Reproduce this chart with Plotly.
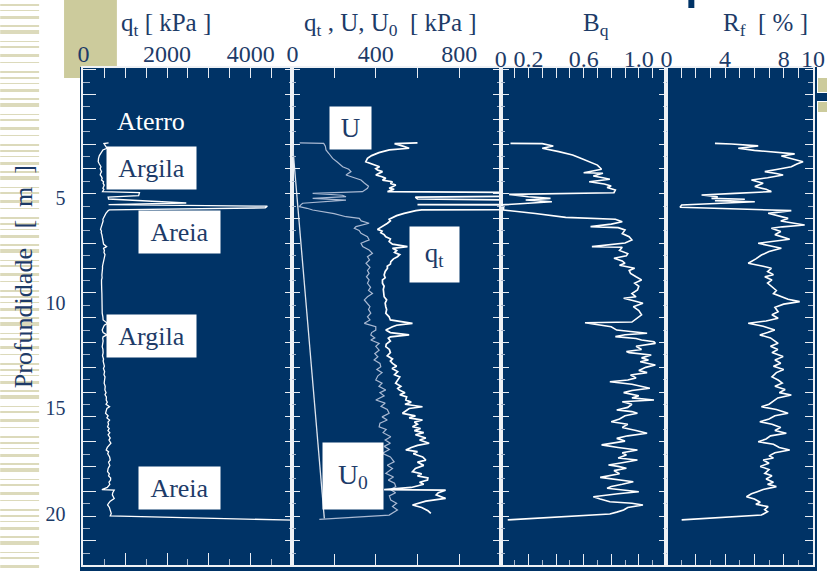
import plotly.graph_objects as go

# ---------------- data ----------------
qt_depth = [2.40, 2.43, 2.55, 2.65, 2.73, 2.86, 3.00, 3.13, 3.29, 3.40,
            3.45, 3.53, 3.62, 3.68, 3.76, 3.85, 3.92, 4.00, 4.08, 4.16,
            4.24, 4.32, 4.40, 4.48, 4.55, 4.60, 4.71, 4.76, 4.90, 4.97,
            5.06, 5.25, 5.33, 5.40, 5.48, 5.58, 5.61, 5.74, 5.85, 6.02,
            6.10, 6.21, 6.35, 6.50, 6.58, 6.66, 6.75, 6.85, 6.95, 7.08,
            7.20, 7.32, 7.40, 7.50, 7.60, 7.70, 7.80, 7.90, 8.03, 8.15,
            8.25, 8.35, 8.50, 8.67, 8.80, 8.90, 9.06, 9.20, 9.35, 9.54,
            9.70, 9.85, 10.00, 10.17, 10.30, 10.48, 10.65, 10.80, 10.96, 11.05,
            11.12, 11.28, 11.40, 11.51, 11.60, 11.67, 11.80, 11.95, 12.07, 12.20,
            12.35, 12.50, 12.65, 12.75, 12.86, 13.00, 13.10, 13.25, 13.40, 13.50,
            13.65, 13.80, 13.95, 14.05, 14.12, 14.25, 14.35, 14.45, 14.60, 14.70,
            14.80, 14.92, 15.00, 15.10, 15.23, 15.35, 15.45, 15.55, 15.65, 15.75,
            15.87, 15.95, 16.05, 16.15, 16.25, 16.40, 16.50, 16.65, 16.75, 16.85,
            16.97, 17.05, 17.15, 17.30, 17.45, 17.55, 17.70, 17.85, 18.00, 18.10,
            18.20, 18.30, 18.40, 18.50, 18.60, 18.75, 18.85, 18.88, 19.00, 19.10,
            19.27, 19.40, 19.50, 19.58, 19.70, 19.85, 19.98]
qt_kpa = [600, 490, 530, 560, 465, 415, 380, 360, 352, 380,
          392, 418, 400, 408, 432, 410, 400, 430, 448, 432,
          480, 470, 496, 480, 464, 488, 456, 1340, 1320, 590,
          600, 2460, 600, 4400, 4350, 620, 592, 536, 500, 464,
          470, 456, 430, 408, 430, 424, 440, 448, 470, 464,
          480, 552, 480, 500, 490, 515, 504, 485, 472, 470,
          455, 456, 445, 440, 445, 432, 432, 440, 436, 440,
          440, 452, 445, 448, 452, 448, 464, 470, 576, 500,
          480, 448, 470, 560, 470, 460, 470, 450, 448, 465,
          470, 455, 480, 470, 480, 500, 478, 505, 490, 515,
          504, 495, 520, 505, 512, 540, 515, 548, 544, 570,
          540, 624, 560, 545, 528, 590, 560, 624, 585, 600,
          576, 615, 585, 630, 590, 640, 610, 656, 600, 570,
          544, 600, 580, 625, 640, 600, 630, 590, 576, 620,
          600, 650, 648, 610, 630, 570, 440, 735, 700, 690,
          735, 640, 600, 576, 620, 650, 664]
qt_tail_depth = [20.10, 20.31]
qt_tail_kpa = [640, 5200]

u_depth = [2.40, 2.42, 2.55, 2.73, 2.90, 3.13, 3.30, 3.53, 3.65, 3.76,
           3.92, 4.05, 4.16, 4.30, 4.45, 4.55, 4.71, 4.79, 4.88, 4.95,
           5.03, 5.11, 5.20, 5.26, 5.34, 5.42, 5.50, 5.58, 5.75, 5.90,
           5.98, 6.10, 6.21, 6.37, 6.45, 6.55, 6.69, 6.85, 7.00, 7.16,
           7.32, 7.48, 7.64, 7.80, 7.95, 8.11, 8.30, 8.45, 8.59, 8.75,
           8.90, 9.06, 9.25, 9.40, 9.54, 9.70, 9.85, 10.01, 10.17, 10.30,
           10.48, 10.65, 10.80, 10.96, 11.12, 11.28, 11.40, 11.51, 11.65, 11.75,
           11.91, 12.05, 12.23, 12.40, 12.55, 12.70, 12.86, 13.02, 13.15, 13.30,
           13.45, 13.65, 13.80, 13.95, 14.12, 14.25, 14.40, 14.60, 14.75, 14.90,
           15.05, 15.23, 15.40, 15.55, 15.70, 15.87, 16.00, 16.15, 16.34, 16.50,
           16.65, 16.80, 16.95, 17.13, 17.30, 17.53, 17.70, 17.85, 18.08, 18.25,
           18.40, 18.55, 18.71, 18.85, 19.00, 19.15, 19.35, 19.50, 19.65, 19.82,
           19.95, 20.06, 20.26]
u_kpa = [35, 150, 158, 161, 175, 193, 215, 241, 270, 281,
         257, 300, 329, 345, 365, 360, 336, 97, 240, 257,
         97, 257, 120, 49, 40, 33, 70, 97, 200, 257,
         321, 330, 368, 305, 297, 320, 329, 360, 368, 329,
         337, 368, 384, 360, 370, 353, 372, 360, 368, 355,
         368, 360, 375, 365, 384, 360, 345, 360, 372, 365,
         376, 360, 372, 345, 400, 400, 380, 376, 395, 376,
         416, 400, 416, 395, 410, 392, 420, 424, 405, 430,
         410, 400, 430, 415, 448, 420, 440, 400, 445, 425,
         455, 464, 430, 455, 420, 416, 450, 435, 472, 445,
         470, 440, 465, 432, 470, 488, 455, 480, 448, 485,
         460, 490, 496, 470, 495, 465, 472, 500, 480, 504,
         480, 464, 129]

u0_depth = [2.40, 20.22]
u0_kpa = [0, 153]

bq_depth = [2.42, 2.43, 2.54, 2.65, 2.81, 2.97, 3.10, 3.29, 3.45, 3.65,
            3.75, 3.81, 3.84, 3.97, 4.05, 4.12, 4.24, 4.35, 4.44, 4.51,
            4.63, 4.76, 4.84, 4.95, 5.03, 5.11, 5.19, 5.34, 5.45, 5.58,
            5.75, 5.93, 6.02, 6.14, 6.25, 6.37, 6.42, 6.53, 6.70, 6.85,
            7.00, 7.15, 7.32, 7.35, 7.50, 7.65, 7.76, 7.87, 8.00, 8.11,
            8.20, 8.35, 8.45, 8.59, 8.75, 8.90, 9.05, 9.20, 9.38, 9.55,
            9.70, 9.77, 9.90, 10.01, 10.17, 10.35, 10.56, 10.75, 10.90, 10.93,
            11.05, 11.12, 11.28, 11.35, 11.43, 11.50, 11.59, 11.68, 11.75, 11.83,
            11.91, 12.05, 12.20, 12.30, 12.35, 12.46, 12.60, 12.70, 12.78, 12.94,
            13.05, 13.20, 13.30, 13.41, 13.55, 13.65, 13.73, 13.85, 13.95, 14.04,
            14.15, 14.25, 14.40, 14.50, 14.60, 14.68, 14.80, 14.95, 15.07, 15.15,
            15.23, 15.35, 15.50, 15.63, 15.75, 15.90, 16.05, 16.18, 16.30, 16.42,
            16.55, 16.65, 16.73, 16.85, 16.97, 17.10, 17.21, 17.35, 17.45, 17.55,
            17.68, 17.75, 17.84, 17.95, 18.10, 18.27, 18.38, 18.48, 18.60, 18.70,
            18.79, 18.88, 18.95, 19.05, 19.19, 19.30, 19.43, 19.50, 19.58, 19.70,
            19.82, 19.92, 20.01, 20.29]
bq = [0.07, 0.30, 0.38, 0.30, 0.42, 0.52, 0.57, 0.64, 0.70, 0.73,
      0.66, 0.60, 0.74, 0.67, 0.74, 0.79, 0.64, 0.75, 0.80, 0.77,
      0.83, 0.82, 0.06, 0.20, 0.36, 0.18, 0.37, 0.00, 0.02, 0.02,
      0.25, 0.47, 0.83, 0.88, 0.80, 0.65, 0.85, 0.90, 0.88, 0.93,
      0.95, 0.90, 0.66, 0.88, 0.86, 0.92, 0.91, 0.82, 0.88, 0.90,
      0.86, 0.97, 0.93, 0.94, 0.98, 1.02, 0.97, 1.00, 0.99, 0.95,
      0.98, 0.89, 0.97, 1.03, 0.96, 1.00, 1.02, 0.98, 0.95, 0.61,
      0.72, 0.80, 0.84, 0.95, 1.06, 0.90, 0.83, 0.98, 1.02, 1.11,
      1.12, 0.98, 1.02, 0.91, 0.93, 1.09, 1.02, 1.07, 1.01, 1.12,
      1.05, 1.00, 1.06, 0.94, 0.98, 0.92, 0.79, 0.95, 1.02, 1.08,
      0.95, 0.89, 1.00, 0.95, 1.11, 0.88, 0.95, 0.92, 0.84, 0.95,
      0.99, 0.90, 0.86, 0.80, 0.92, 0.88, 0.98, 1.06, 0.92, 0.84,
      0.90, 0.80, 0.73, 0.85, 0.99, 0.88, 0.91, 0.85, 0.99, 0.90,
      0.78, 0.85, 0.91, 0.82, 0.86, 0.72, 0.85, 0.96, 0.88, 0.80,
      0.77, 0.92, 1.00, 0.85, 0.67, 0.72, 0.79, 0.95, 1.03, 0.92,
      0.89, 0.84, 0.79, 0.05]

rf_depth = [2.42, 2.45, 2.54, 2.65, 2.75, 2.85, 2.92, 3.02, 3.15, 3.29,
            3.40, 3.53, 3.65, 3.76, 3.85, 3.92, 4.05, 4.16, 4.31, 4.40,
            4.47, 4.60, 4.71, 4.79, 4.87, 4.95, 5.03, 5.07, 5.14, 5.19,
            5.30, 5.34, 5.45, 5.61, 5.74, 5.85, 5.98, 6.10, 6.29, 6.38,
            6.45, 6.60, 6.75, 6.97, 7.05, 7.16, 7.30, 7.40, 7.55, 7.72,
            7.90, 8.11, 8.25, 8.35, 8.50, 8.65, 8.75, 8.90, 9.05, 9.22,
            9.40, 9.55, 9.70, 9.82, 9.93, 10.05, 10.20, 10.41, 10.55, 10.72,
            10.85, 10.96, 11.10, 11.28, 11.40, 11.51, 11.65, 11.78, 11.91, 12.05,
            12.20, 12.35, 12.54, 12.70, 12.85, 13.00, 13.15, 13.30, 13.50, 13.65,
            13.80, 13.95, 14.10, 14.25, 14.36, 14.50, 14.65, 14.80, 14.92, 15.05,
            15.23, 15.35, 15.50, 15.63, 15.75, 15.90, 16.05, 16.18, 16.30, 16.45,
            16.58, 16.70, 16.85, 16.97, 17.10, 17.25, 17.35, 17.45, 17.60, 17.75,
            17.90, 18.08, 18.20, 18.35, 18.50, 18.60, 18.71, 18.85, 18.95, 19.05,
            19.19, 19.30, 19.45, 19.55, 19.66, 19.80, 19.90, 20.06, 20.29]
rf_pct = [3.31, 4.44, 6.26, 4.90, 6.00, 7.80, 8.75, 7.84, 8.60, 9.32,
          8.90, 8.52, 7.60, 6.71, 7.50, 7.96, 6.90, 5.80, 6.60, 6.20,
          6.03, 6.80, 7.16, 4.67, 2.40, 3.50, 3.08, 5.35, 3.31, 6.03,
          2.50, 1.04, 0.93, 8.52, 6.94, 7.60, 8.30, 7.80, 9.43, 7.90,
          7.16, 7.80, 7.40, 8.41, 7.30, 6.26, 7.20, 7.84, 7.00, 6.48,
          6.10, 5.58, 6.60, 7.16, 6.90, 7.30, 6.71, 7.20, 6.90, 7.16,
          7.50, 7.30, 7.84, 8.30, 9.09, 8.00, 7.40, 7.62, 7.20, 7.62,
          6.80, 5.58, 6.60, 7.39, 6.90, 6.37, 7.10, 7.40, 7.62, 7.10,
          7.60, 7.20, 7.96, 7.40, 7.80, 7.30, 8.00, 7.50, 7.20, 7.62,
          7.90, 7.40, 8.10, 7.70, 8.52, 7.60, 7.30, 7.00, 6.48, 7.50,
          8.30, 7.40, 7.00, 6.37, 7.20, 7.80, 7.40, 8.18, 7.10, 6.80,
          6.26, 7.30, 7.70, 8.41, 7.40, 7.00, 7.30, 6.60, 7.00, 6.40,
          7.00, 6.71, 7.20, 6.80, 7.30, 6.90, 7.50, 6.60, 6.20, 5.80,
          5.46, 6.00, 6.40, 6.10, 6.94, 6.70, 6.90, 6.48, 1.04]

depth_ticks = [5, 10, 15, 20]
bq_ticks = [0, 0.2, 0.6, 1.0]
bq_ticktext = ["0", "0.2", "0.6", "1.0"]
rf_ticks = [0, 4, 8, 10]

assert len(qt_depth) == len(qt_kpa)
assert len(u_depth) == len(u_kpa)
assert len(bq_depth) == len(bq)
assert len(rf_depth) == len(rf_pct)

# ---------------- styling / layout helpers ----------------
W, H = 829, 571
NL, NR, NT, NB_ = 80, 819, 67, 571       # navy panel (= plotting area) pixel bounds
NAVY = "#003366"
TXT = "#1d3b68"
KHAKI = "#cccb9c"
STRIPE = "#dcdabb"
LINE = "#eef1f5"
TICK = "#e9edf3"
TICK2 = "#a8b7cc"
FONT = "Liberation Serif, Times New Roman, serif"


def px(x):
    return (x - NL) / (NR - NL)


def py(y):
    return (NB_ - y) / (NB_ - NT)


D1 = [px(83.5), px(293)]
D2 = [px(293), px(502)]
D3 = [px(502), px(668)]
D4 = [px(668), px(815)]
YDOM = [py(565), py(68)]

# depth scale of the slide: depth d sits at pixel 92.4 + 21.07*d
DEPTH_Y0, DEPTH_PXM = 92.4, 21.07
DEPTH_RANGE = [(565 - DEPTH_Y0) / DEPTH_PXM, (68 - DEPTH_Y0) / DEPTH_PXM]
# the frame's tick marks: every 12.4 px starting at pixel 69.7
FR_TICK0 = (69.7 - DEPTH_Y0) / DEPTH_PXM
FR_DTICK = 24.8 / DEPTH_PXM

fig = go.Figure()


def line_trace(x, y, xa, ya, color, width, opacity=1.0):
    fig.add_trace(go.Scatter(x=x, y=y, xaxis=xa, yaxis=ya, mode="lines",
                             opacity=opacity, hoverinfo="skip",
                             line=dict(color=color, width=width)))


qt_panel1_x = qt_kpa + qt_tail_kpa
qt_panel1_y = qt_depth + qt_tail_depth

# visible curves
line_trace(qt_panel1_x, qt_panel1_y, "x", "y", "white", 1.3)
line_trace(u0_kpa, u0_depth, "x2", "y2", "#dfe5ee", 1.3)
line_trace(u_kpa, u_depth, "x2", "y2", "#a9b9d2", 1.2)
line_trace(qt_kpa, qt_depth, "x2", "y2", "white", 1.7)
line_trace(bq, bq_depth, "x3", "y3", "white", 1.6)
line_trace(rf_pct, rf_depth, "x4", "y4", "white", 1.6)
# transparent copies that bind the extra (tick / label) axes to their panels
line_trace(qt_panel1_x, qt_panel1_y, "x5", "y", "white", 1, 0)
line_trace(qt_kpa, qt_depth, "x6", "y2", "white", 1, 0)
line_trace(bq, bq_depth, "x7", "y3", "white", 1, 0)
line_trace(rf_pct, rf_depth, "x8", "y4", "white", 1, 0)
line_trace(bq, bq_depth, "x9", "y3", "white", 1, 0)
line_trace(rf_pct, rf_depth, "x10", "y4", "white", 1, 0)
line_trace(qt_panel1_x, qt_panel1_y, "x", "y5", "white", 1, 0)
line_trace(qt_panel1_x, qt_panel1_y, "x", "y6", "white", 1, 0)

TICKFONT = dict(family=FONT, size=24, color=TXT)


def bottom_axis(domain, rng, anchor, dtick, ln, mdtick=None, mln=0):
    d = dict(domain=domain, range=rng, side="bottom", anchor=anchor,
             tickmode="linear", tick0=0, dtick=dtick,
             ticks="inside", ticklen=ln, tickwidth=1, tickcolor=TICK,
             showticklabels=False, showline=True, linecolor=LINE, linewidth=1.5,
             showgrid=False, zeroline=False)
    if mdtick:
        d["minor"] = dict(tick0=0, dtick=mdtick, ticks="inside", ticklen=mln,
                          tickwidth=1, tickcolor=TICK2, showgrid=False)
    return d


def top_tick_axis(over, rng, anchor, dtick, labels, mdtick=None):
    d = dict(overlaying=over, range=rng, side="top", anchor=anchor,
             tickmode="linear", tick0=0, dtick=dtick,
             ticks="inside", ticklen=10, tickwidth=1, tickcolor=TICK,
             showticklabels=labels, ticklabelstandoff=-5, tickfont=TICKFONT,
             showline=True, linecolor=LINE, linewidth=1.5,
             showgrid=False, zeroline=False)
    if mdtick:
        d["minor"] = dict(tick0=0, dtick=mdtick, ticks="inside", ticklen=10,
                          tickwidth=1, tickcolor=TICK, showgrid=False)
    return d


def label_axis(over, rng, anchor, vals, texts):
    return dict(overlaying=over, range=rng, side="top", anchor=anchor,
                tickmode="array", tickvals=vals, ticktext=texts, ticks="",
                ticklabelstandoff=-5, tickfont=TICKFONT,
                showline=False, showgrid=False, zeroline=False)


def frame_axis(anchor, side, ln, mln, mirror, overlay=None):
    d = dict(range=DEPTH_RANGE, anchor=anchor, side=side,
             tickmode="linear", tick0=FR_TICK0, dtick=FR_DTICK,
             ticks="inside", ticklen=ln, tickwidth=1, tickcolor=TICK,
             minor=dict(tick0=FR_TICK0, dtick=FR_DTICK / 2, ticks="inside",
                        ticklen=mln, tickwidth=1, tickcolor=TICK2, showgrid=False),
             mirror=mirror, showticklabels=False,
             showline=True, linecolor=LINE, linewidth=1.5,
             showgrid=False, zeroline=False)
    if overlay:
        d["overlaying"] = overlay
    else:
        d["domain"] = YDOM
    return d


layout = dict(
    width=W, height=H,
    margin=dict(l=NL, r=W - NR, t=NT, b=H - NB_, pad=0),
    paper_bgcolor="white", plot_bgcolor=NAVY,
    showlegend=False, hovermode=False,
    # panel x-axes (bottom ticks)
    xaxis=bottom_axis(D1, [0, 5000], "y", 1000, 12, 500, 6),
    xaxis2=bottom_axis(D2, [0, 1000], "y2", 200, 11),
    xaxis3=bottom_axis(D3, [0, 1.2], "y3", 0.2, 11, 0.1, 5),
    xaxis4=bottom_axis(D4, [0, 10], "y4", 2, 11, 1, 5),
    # top ticks (and labels for the first two panels)
    xaxis5=top_tick_axis("x", [0, 5000], "y", 2000, True, 500),
    xaxis6=top_tick_axis("x2", [0, 1000], "y2", 400, True, 200),
    xaxis7=top_tick_axis("x3", [0, 1.2], "y3", 0.1, False),
    xaxis8=top_tick_axis("x4", [0, 10], "y4", 1, False),
    # top labels for the B_q and R_f panels
    xaxis9=label_axis("x3", [0, 1.2], "y3", bq_ticks, bq_ticktext),
    xaxis10=label_axis("x4", [0, 10], "y4", rf_ticks, [str(v) for v in rf_ticks]),
    # depth axes with the frame's tick marks
    yaxis=frame_axis("x", "left", 13, 7, True),
    yaxis2=frame_axis("x2", "left", 8, 4, "ticks"),
    yaxis3=frame_axis("x3", "left", 8, 4, "ticks"),
    yaxis4=frame_axis("x4", "right", 8, 5, True),
    yaxis6=frame_axis("x", "right", 8, 4, False, overlay="y"),
    # depth labels
    yaxis5=dict(overlaying="y", range=DEPTH_RANGE, anchor="x", side="left",
                tickmode="array", tickvals=depth_ticks, ticks="",
                showline=False, showgrid=False, zeroline=False,
                ticklabelstandoff=17,
                tickfont=dict(family=FONT, size=20, color=TXT)),
)

# ---------------- decorative shapes (slide template) ----------------
shapes = []
pattern = [(2, 4), (1, 5), (3, 6), (2, 3), (4, 7), (1, 4), (2, 6), (3, 5), (1, 8), (2, 4)]
yy, i = 4, 0
while yy < H:
    h, gap = pattern[i % len(pattern)]
    shapes.append(dict(type="rect", xref="paper", yref="paper", layer="below",
                       x0=px(0), x1=px(39), y0=py(yy + h), y1=py(yy),
                       fillcolor=STRIPE, line=dict(width=0)))
    yy += h + gap
    i += 1


def rect(x0, x1, y0, y1, color):
    shapes.append(dict(type="rect", xref="paper", yref="paper", layer="below",
                       x0=px(x0), x1=px(x1), y0=py(y1), y1=py(y0),
                       fillcolor=color, line=dict(width=0)))


rect(64, 117, 0, 78, KHAKI)
rect(80, 819, 67, 571, NAVY)
rect(820, 829, 78, 92, KHAKI)
rect(819, 829, 93, 101, NAVY)
rect(820, 829, 102, 112, KHAKI)
rect(690, 696, 0, 8, NAVY)
layout["shapes"] = shapes

# ---------------- text ----------------
ann = []


def text(t, x, y, size, color=TXT, angle=0, **kw):
    d = dict(text=t, xref="paper", yref="paper", x=px(x), y=py(y),
             xanchor="center", yanchor="middle", showarrow=False, textangle=angle,
             font=dict(family=FONT, size=size, color=color))
    d.update(kw)
    ann.append(d)


def box(t, x0, x1, y0, y1, size=26):
    text(t, (x0 + x1) / 2, (y0 + y1) / 2, size, bgcolor="white",
         width=x1 - x0, height=y1 - y0, borderpad=0, align="center", valign="middle")


NBSP = "\u00a0"
text("q<sub>t</sub> [ kPa ]", 166, 24, 25)
text("q<sub>t</sub> , U, U<sub>0</sub>" + NBSP * 2 + "[ kPa ]", 391, 24, 25)
text("B<sub>q</sub>", 597, 24, 25)
text("R<sub>f</sub>" + NBSP * 2 + "[ % ]", 767, 24, 25)
text("Profundidade" + NBSP * 3 + "[" + NBSP * 2 + "m" + NBSP * 2 + "]", 23, 277, 26, angle=-90)

text("Aterro", 151, 122, 26, color="white")
box("Argila", 107, 196, 147, 189)
box("Areia", 139, 220, 211, 253)
box("Argila", 107, 196, 315, 357)
box("Areia", 139, 220, 467, 509)
box("U", 331, 372, 107, 149, 27)
box("q<sub>t</sub>", 411, 460, 227, 282, 27)
box("U<sub>0</sub>", 324, 384, 443, 509, 28)

layout["annotations"] = ann
fig.update_layout(**layout)
fig.write_html("out.html",
               config={"displayModeBar": False},
               post_script="document.body.style.margin='0px';")
